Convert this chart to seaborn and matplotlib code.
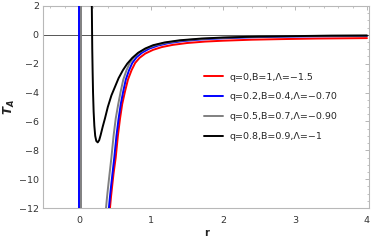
import numpy as np
import pandas as pd
import matplotlib
matplotlib.use("Agg")
import matplotlib.pyplot as plt
from matplotlib.ticker import MultipleLocator
import seaborn as sns

# curve labels and colours
labels = ["q=0,B=1,\u039b=\u22121.5",
          "q=0.2,B=0.4,\u039b=\u22120.70",
          "q=0.5,B=0.7,\u039b=\u22120.90",
          "q=0.8,B=0.9,\u039b=\u22121"]
colors = ["#ff0000", "#0000ff", "#808080", "#000000"]

# values (main branch of each curve)
r_red = [0.43, 0.445, 0.46, 0.48, 0.51, 0.54, 0.57, 0.60, 0.64, 0.68, 0.73, 0.78, 0.84, 0.92,
         1.03, 1.15, 1.3, 1.5, 1.75, 2.0, 2.4, 2.8, 3.3, 4.0]
T_red = [-12.0, -11.2, -10.5, -9.6, -8.5, -7.0, -5.8, -4.8, -3.9, -3.1, -2.45, -1.95, -1.6, -1.3,
         -1.04, -0.85, -0.7, -0.57, -0.47, -0.41, -0.34, -0.3, -0.26, -0.23]

r_blue = [0.415, 0.43, 0.445, 0.465, 0.49, 0.52, 0.55, 0.58, 0.615, 0.65, 0.695, 0.74, 0.8, 0.88,
          0.98, 1.1, 1.25, 1.45, 1.7, 2.0, 2.4, 2.8, 3.3, 4.0]
T_blue = [-12.0, -11.2, -10.5, -9.6, -8.5, -7.0, -5.8, -4.8, -3.9, -3.1, -2.45, -1.95, -1.55, -1.22,
          -0.95, -0.74, -0.57, -0.43, -0.32, -0.24, -0.17, -0.13, -0.1, -0.08]

r_gray = [0.375, 0.39, 0.405, 0.425, 0.45, 0.48, 0.51, 0.545, 0.58, 0.615, 0.66, 0.705, 0.765, 0.84,
          0.94, 1.06, 1.22, 1.42, 1.68, 2.0, 2.4, 2.8, 3.3, 4.0]
T_gray = [-12.0, -11.2, -10.5, -9.6, -8.5, -7.0, -5.8, -4.8, -3.9, -3.1, -2.45, -1.95, -1.55, -1.22,
          -0.94, -0.72, -0.54, -0.4, -0.29, -0.21, -0.14, -0.1, -0.08, -0.06]

r_black = [0.176, 0.18, 0.184, 0.189, 0.195, 0.203, 0.213, 0.225, 0.24, 0.26, 0.28, 0.30, 0.33,
           0.36, 0.40, 0.45, 0.50, 0.55, 0.61, 0.67, 0.74, 0.82, 0.92, 1.03, 1.19, 1.4, 1.7, 2.0,
           2.5, 3.0, 3.5, 4.0]
T_black = [3.0, 1.0, -1.0, -2.5, -4.0, -5.3, -6.3, -7.0, -7.35, -7.45, -7.3, -6.95, -6.35,
           -5.8, -5.0, -4.2, -3.6, -3.0, -2.45, -2.0, -1.6, -1.25, -0.95, -0.72, -0.53, -0.38, -0.26,
           -0.19, -0.12, -0.09, -0.06, -0.05]

# pole at r ~ 0 for the q=0.2 and q=0.5 curves
r_blue_pole = [0.0, 0.0]
T_blue_pole = [3.0, -13.0]
r_gray_pole = [0.03, 0.03]
T_gray_pole = [3.0, -13.0]

frames = []
def add(r, T, lab, branch):
    frames.append(pd.DataFrame({"r": r, "T": T, "label": lab, "branch": branch}))

add(r_red, T_red, labels[0], 0)
add(r_gray_pole, T_gray_pole, labels[2], 4)
add(r_blue, T_blue, labels[1], 1)
add(r_blue_pole, T_blue_pole, labels[1], 2)
add(r_gray, T_gray, labels[2], 3)
add(r_black, T_black, labels[3], 5)
df = pd.concat(frames, ignore_index=True)

sns.set_style("white")
plt.rcParams["font.family"] = ["DejaVu Sans"]
plt.rcParams["mathtext.fontset"] = "custom"
plt.rcParams["mathtext.it"] = "DejaVu Sans:italic:bold"
plt.rcParams["mathtext.rm"] = "DejaVu Sans:bold"

fig = plt.figure(figsize=(3.74, 2.46), dpi=100)
ax = fig.add_axes([0.115, 0.154, 0.872, 0.822])

ax.axhline(0, color="#555555", lw=0.7, zorder=1)
sns.lineplot(data=df, x="r", y="T", hue="label", units="branch", estimator=None,
             sort=False, palette=dict(zip(labels, colors)), hue_order=labels,
             lw=1.4, ax=ax, zorder=3)

ax.set_xlim(-0.5, 4.03)
ax.set_ylim(-12, 2)
ax.xaxis.set_major_locator(MultipleLocator(1))
ax.xaxis.set_minor_locator(MultipleLocator(0.2))
ax.yaxis.set_major_locator(MultipleLocator(2))
ax.yaxis.set_minor_locator(MultipleLocator(0.5))
ax.tick_params(which="both", direction="in", top=True, right=True, color="#aaaaaa",
               labelsize=6.8, labelcolor="#333333")
ax.tick_params(axis="x", which="major", pad=6)
ax.tick_params(axis="y", which="major", pad=3)
ax.tick_params(which="major", length=3, width=0.6)
ax.tick_params(which="minor", length=1.6, width=0.5)
for s in ax.spines.values():
    s.set_color("#b8b8b8")
    s.set_linewidth(0.8)

ax.set_xlabel("r", fontsize=7, fontweight="bold", color="#222222", labelpad=2)
ax.set_ylabel(r"$T_A$", fontsize=8.5, color="#222222", labelpad=1)

leg = ax.legend(loc="upper left", bbox_to_anchor=(0.494, 0.67), frameon=False,
                borderaxespad=0, borderpad=0, fontsize=6.8, handlelength=2.0,
                labelspacing=1.15, handletextpad=0.7)
for h in leg.get_lines():
    h.set_linewidth(1.4)

fig.savefig("out.png", dpi=100)
